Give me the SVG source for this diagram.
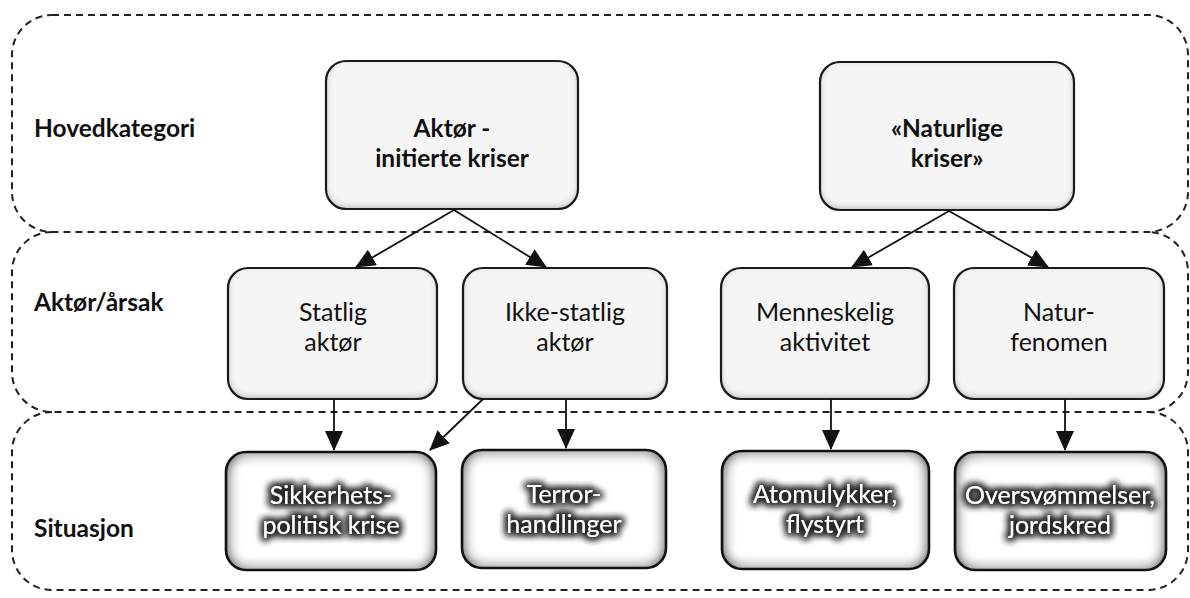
<svg xmlns="http://www.w3.org/2000/svg" width="1190" height="598" viewBox="0 0 1190 598">
<style>
.band{fill:none;stroke:#222;stroke-width:2;stroke-dasharray:7 5}
.lbl{font-family:Lato,"Noto Sans",sans-serif;font-weight:bold;font-size:24.5px;fill:#111}
.box{fill:#f5f5f5;stroke:none}
.bline{fill:none;stroke:#1a1a1a;stroke-width:2.2}
.tb{font-family:Lato,"Noto Sans",sans-serif;font-weight:bold;font-size:24.5px;fill:#111;text-anchor:middle}
.tm{font-family:Lato,"Noto Sans",sans-serif;font-size:25px;fill:#111;text-anchor:middle}
.sbox{fill:#fff;stroke:none}
.sline{fill:none;stroke:#111;stroke-width:2.6}
.ts{font-family:Lato,"Noto Sans",sans-serif;font-size:25px;fill:#fff;text-anchor:middle}
.con{fill:none;stroke:#111;stroke-width:1.8}
</style>
<defs>
<marker id="ah" markerUnits="userSpaceOnUse" markerWidth="20" markerHeight="18" viewBox="0 0 20 18" refX="19" refY="9" orient="auto">
<path d="M0,0 L20,9 L0,18 Z" fill="#111"/>
</marker>
<filter id="inner" x="-5%" y="-5%" width="110%" height="110%">
<feFlood flood-color="#2a2a2a"/>
<feComposite in2="SourceAlpha" operator="out"/>
<feGaussianBlur stdDeviation="7"/>
<feComposite in2="SourceAlpha" operator="in" result="sh"/>
<feMerge><feMergeNode in="SourceGraphic"/><feMergeNode in="sh"/><feMergeNode in="sh"/></feMerge>
</filter>
<filter id="soft" x="-5%" y="-5%" width="110%" height="110%">
<feFlood flood-color="#aaa"/>
<feComposite in2="SourceAlpha" operator="out"/>
<feGaussianBlur stdDeviation="3"/>
<feOffset dy="-2"/>
<feComposite in2="SourceAlpha" operator="in" result="sh"/>
<feMerge><feMergeNode in="SourceGraphic"/><feMergeNode in="sh"/></feMerge>
</filter>
<filter id="halo" x="-20%" y="-40%" width="140%" height="180%">
<feMorphology in="SourceAlpha" operator="dilate" radius="1.5" result="d"/>
<feGaussianBlur in="d" stdDeviation="3.5" result="b"/>
<feFlood flood-color="#2a2a2a"/>
<feComposite in2="b" operator="in" result="g"/>
<feMerge><feMergeNode in="g"/><feMergeNode in="g"/><feMergeNode in="SourceGraphic"/></feMerge>
</filter>
</defs>

<g id="bands">
<rect class="band" x="12" y="15" width="1176" height="217" rx="40"/>
<path class="band" d="M52,232 A40,40 0 0 0 12,272 L12,372 A40,40 0 0 0 52,412 L1148,412 A40,40 0 0 0 1188,372 L1188,272 A40,40 0 0 0 1148,232"/>
<path class="band" d="M52,412 A40,40 0 0 0 12,452 L12,550 A40,40 0 0 0 52,590 L1148,590 A40,40 0 0 0 1188,550 L1188,452 A40,40 0 0 0 1148,412"/>
</g>

<g id="row-labels">
<text class="lbl" x="34" y="137">Hovedkategori</text>
<text class="lbl" x="34" y="311">Aktør/årsak</text>
<text class="lbl" x="34" y="537">Situasjon</text>
</g>

<g id="n-aktor-initierte">
<rect class="box" filter="url(#soft)" x="326" y="61" width="252" height="148" rx="20"/>
<rect class="bline" x="326" y="61" width="252" height="148" rx="20"/>
<text class="tb" x="452" y="137">Aktør -</text>
<text class="tb" x="452" y="167">initierte kriser</text>
</g>
<g id="n-naturlige">
<rect class="box" filter="url(#soft)" x="820" y="62" width="254" height="148" rx="20"/>
<rect class="bline" x="820" y="62" width="254" height="148" rx="20"/>
<text class="tb" x="947" y="137">«Naturlige</text>
<text class="tb" x="947" y="167">kriser»</text>
</g>

<g id="n-statlig">
<rect class="box" filter="url(#soft)" x="228" y="268" width="209" height="131" rx="20"/>
<rect class="bline" x="228" y="268" width="209" height="131" rx="20"/>
<text class="tm" x="333" y="321">Statlig</text>
<text class="tm" x="333" y="351">aktør</text>
</g>
<g id="n-ikke-statlig">
<rect class="box" filter="url(#soft)" x="463" y="268" width="204" height="131" rx="20"/>
<rect class="bline" x="463" y="268" width="204" height="131" rx="20"/>
<text class="tm" x="565" y="321">Ikke-statlig</text>
<text class="tm" x="565" y="351">aktør</text>
</g>
<g id="n-menneskelig">
<rect class="box" filter="url(#soft)" x="721" y="268" width="208" height="131" rx="20"/>
<rect class="bline" x="721" y="268" width="208" height="131" rx="20"/>
<text class="tm" x="825" y="321">Menneskelig</text>
<text class="tm" x="825" y="351">aktivitet</text>
</g>
<g id="n-naturfenomen">
<rect class="box" filter="url(#soft)" x="954" y="268" width="210" height="131" rx="20"/>
<rect class="bline" x="954" y="268" width="210" height="131" rx="20"/>
<text class="tm" x="1059" y="321">Natur-</text>
<text class="tm" x="1059" y="351">fenomen</text>
</g>

<g id="n-sikkerhet">
<rect class="sbox" filter="url(#inner)" x="226" y="452" width="210" height="118" rx="20"/>
<rect class="sline" x="226" y="452" width="210" height="118" rx="20"/>
<text class="ts" filter="url(#halo)" x="331" y="504">Sikkerhets-</text>
<text class="ts" filter="url(#halo)" x="331" y="534">politisk krise</text>
</g>
<g id="n-terror">
<rect class="sbox" filter="url(#inner)" x="462" y="450" width="204" height="118" rx="20"/>
<rect class="sline" x="462" y="450" width="204" height="118" rx="20"/>
<text class="ts" filter="url(#halo)" x="564" y="503">Terror-</text>
<text class="ts" filter="url(#halo)" x="564" y="533">handlinger</text>
</g>
<g id="n-atom">
<rect class="sbox" filter="url(#inner)" x="722" y="451" width="207" height="118" rx="20"/>
<rect class="sline" x="722" y="451" width="207" height="118" rx="20"/>
<text class="ts" filter="url(#halo)" x="825" y="503">Atomulykker,</text>
<text class="ts" filter="url(#halo)" x="825" y="533">flystyrt</text>
</g>
<g id="n-oversvommelser">
<rect class="sbox" filter="url(#inner)" x="955" y="452" width="211" height="118" rx="20"/>
<rect class="sline" x="955" y="452" width="211" height="118" rx="20"/>
<text class="ts" filter="url(#halo)" x="1060" y="504">Oversvømmelser,</text>
<text class="ts" filter="url(#halo)" x="1060" y="534">jordskred</text>
</g>

<g id="connectors">
<line class="con" x1="454" y1="210" x2="356" y2="267" marker-end="url(#ah)"/>
<line class="con" x1="454" y1="210" x2="546" y2="267" marker-end="url(#ah)"/>
<line class="con" x1="949" y1="211" x2="852" y2="267" marker-end="url(#ah)"/>
<line class="con" x1="949" y1="211" x2="1048" y2="267" marker-end="url(#ah)"/>
<line class="con" x1="334" y1="399" x2="334" y2="450" marker-end="url(#ah)"/>
<line class="con" x1="483" y1="399" x2="430" y2="450" marker-end="url(#ah)"/>
<line class="con" x1="566" y1="399" x2="566" y2="448" marker-end="url(#ah)"/>
<line class="con" x1="831" y1="399" x2="831" y2="449" marker-end="url(#ah)"/>
<line class="con" x1="1065" y1="399" x2="1065" y2="450" marker-end="url(#ah)"/>
</g>
</svg>
